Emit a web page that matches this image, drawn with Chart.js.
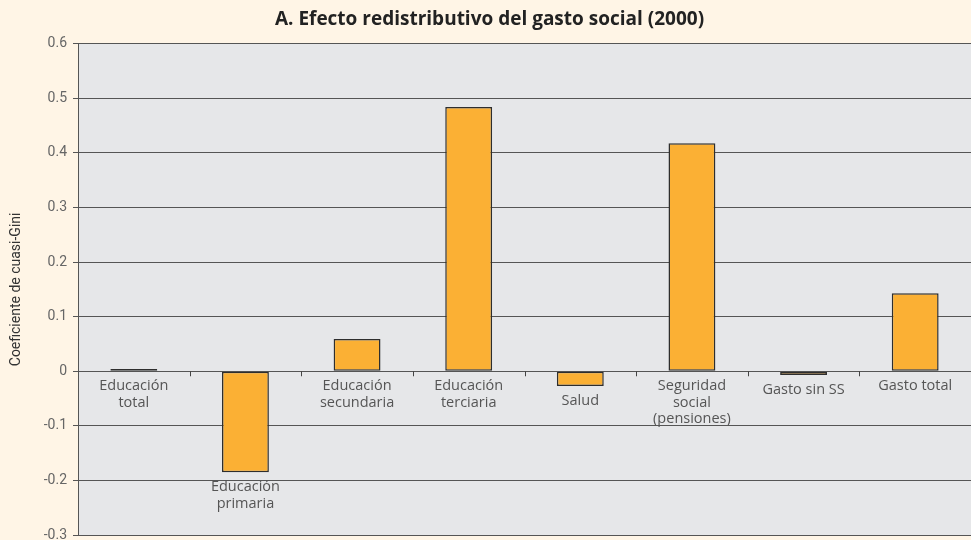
<!DOCTYPE html>
<html>
<head>
<meta charset="utf-8">
<script src="https://cdn.jsdelivr.net/npm/chart.js@4/dist/chart.umd.min.js"></script>
<style>
  html, body { margin: 0; padding: 0; background: #fff5e6; }
  #wrap { width: 971px; height: 540px; }
</style>
</head>
<body>
<div id="wrap"><canvas id="c" width="971" height="540"></canvas></div>
<script>
// categories (multi-line labels) and quasi-Gini values
const categories = [
  ['Educación', 'total'],
  ['Educación', 'primaria'],
  ['Educación', 'secundaria'],
  ['Educación', 'terciaria'],
  ['Salud'],
  ['Seguridad', 'social', '(pensiones)'],
  ['Gasto sin SS'],
  ['Gasto total'],
];
const values = [0.004, -0.185, 0.059, 0.484, -0.027, 0.418, -0.007, 0.143];
const yTicks = [0.6, 0.5, 0.4, 0.3, 0.2, 0.1, 0, -0.1, -0.2, -0.3];

const FONT  = 'Roboto, "DejaVu Sans", sans-serif';
const LFONT = '"Open Sans", Roboto, sans-serif';
const INK   = '#555555';

/* plot-area fill */
const plotBg = {
  id: 'plotBg',
  beforeDraw(chart) {
    const { ctx, chartArea: a } = chart;
    ctx.save();
    ctx.fillStyle = '#e6e7e9';
    ctx.fillRect(a.left, a.top, a.right - a.left, a.bottom - a.top);
    ctx.restore();
  },
};

/* category ticks on the zero line + labels under the bar or the axis */
const catLabels = {
  id: 'catLabels',
  afterDatasetsDraw(chart) {
    const { ctx } = chart;
    const x = chart.scales.x, y = chart.scales.y;
    const y0 = y.getPixelForValue(0);
    ctx.save();
    ctx.strokeStyle = '#444';
    ctx.lineWidth = 1;
    for (let i = 1; i < categories.length; i++) {
      const bx = Math.round((x.getPixelForValue(i - 1) + x.getPixelForValue(i)) / 2) + 0.5;
      ctx.beginPath(); ctx.moveTo(bx, y0); ctx.lineTo(bx, y0 + 5); ctx.stroke();
    }
    ctx.fillStyle = INK;
    ctx.font = '14.5px ' + LFONT;
    ctx.textAlign = 'center';
    ctx.textBaseline = 'middle';
    categories.forEach((lines, i) => {
      const cx = x.getPixelForValue(i);
      const top = Math.max(y0, y.getPixelForValue(Math.min(values[i], 0))) + 15;
      lines.forEach((t, k) => ctx.fillText(t, cx, top + k * 16.5));
    });
    ctx.restore();
  },
};

new Chart(document.getElementById('c'), {
  type: 'bar',
  data: {
    labels: categories.map(l => l.join(' ')),
    datasets: [{
      data: values,
      backgroundColor: '#fbb034',
      borderColor: '#2e2e2e',
      borderWidth: 1.5,
      borderSkipped: false,
      barPercentage: 0.42,
      categoryPercentage: 1,
    }],
  },
  options: {
    responsive: false,
    animation: false,
    layout: { padding: { top: 0, right: 0, bottom: 5, left: 8 } },
    plugins: {
      legend: { display: false },
      tooltip: { enabled: false },
      title: {
        display: true,
        text: 'A. Efecto redistributivo del gasto social (2000)',
        color: '#222',
        font: { family: LFONT, size: 19, weight: 'bold' },
        padding: { top: 8, bottom: 13 },
        align: 'center',
      },
    },
    scales: {
      x: { display: false },
      y: {
        min: -0.3,
        max: 0.6,
        afterFit: s => { s.width = 70; s.paddingTop = 0; s.paddingBottom = 0; },
        afterBuildTicks: s => { s.ticks = yTicks.map(v => ({ value: v })); },
        ticks: {
          color: '#666',
          font: { family: FONT, size: 14 },
          padding: 6,
          callback: v => String(Math.round(v * 10) / 10),
        },
        grid: { color: '#555', lineWidth: 1, tickLength: 5, tickColor: '#555' },
        border: { color: '#555', width: 1 },
        title: {
          display: true,
          text: 'Coeficiente de cuasi-Gini',
          color: '#333',
          font: { family: FONT, size: 14 },
          padding: { top: 0, bottom: 4 },
        },
      },
    },
  },
  plugins: [plotBg, catLabels],
});
</script>
</body>
</html>
